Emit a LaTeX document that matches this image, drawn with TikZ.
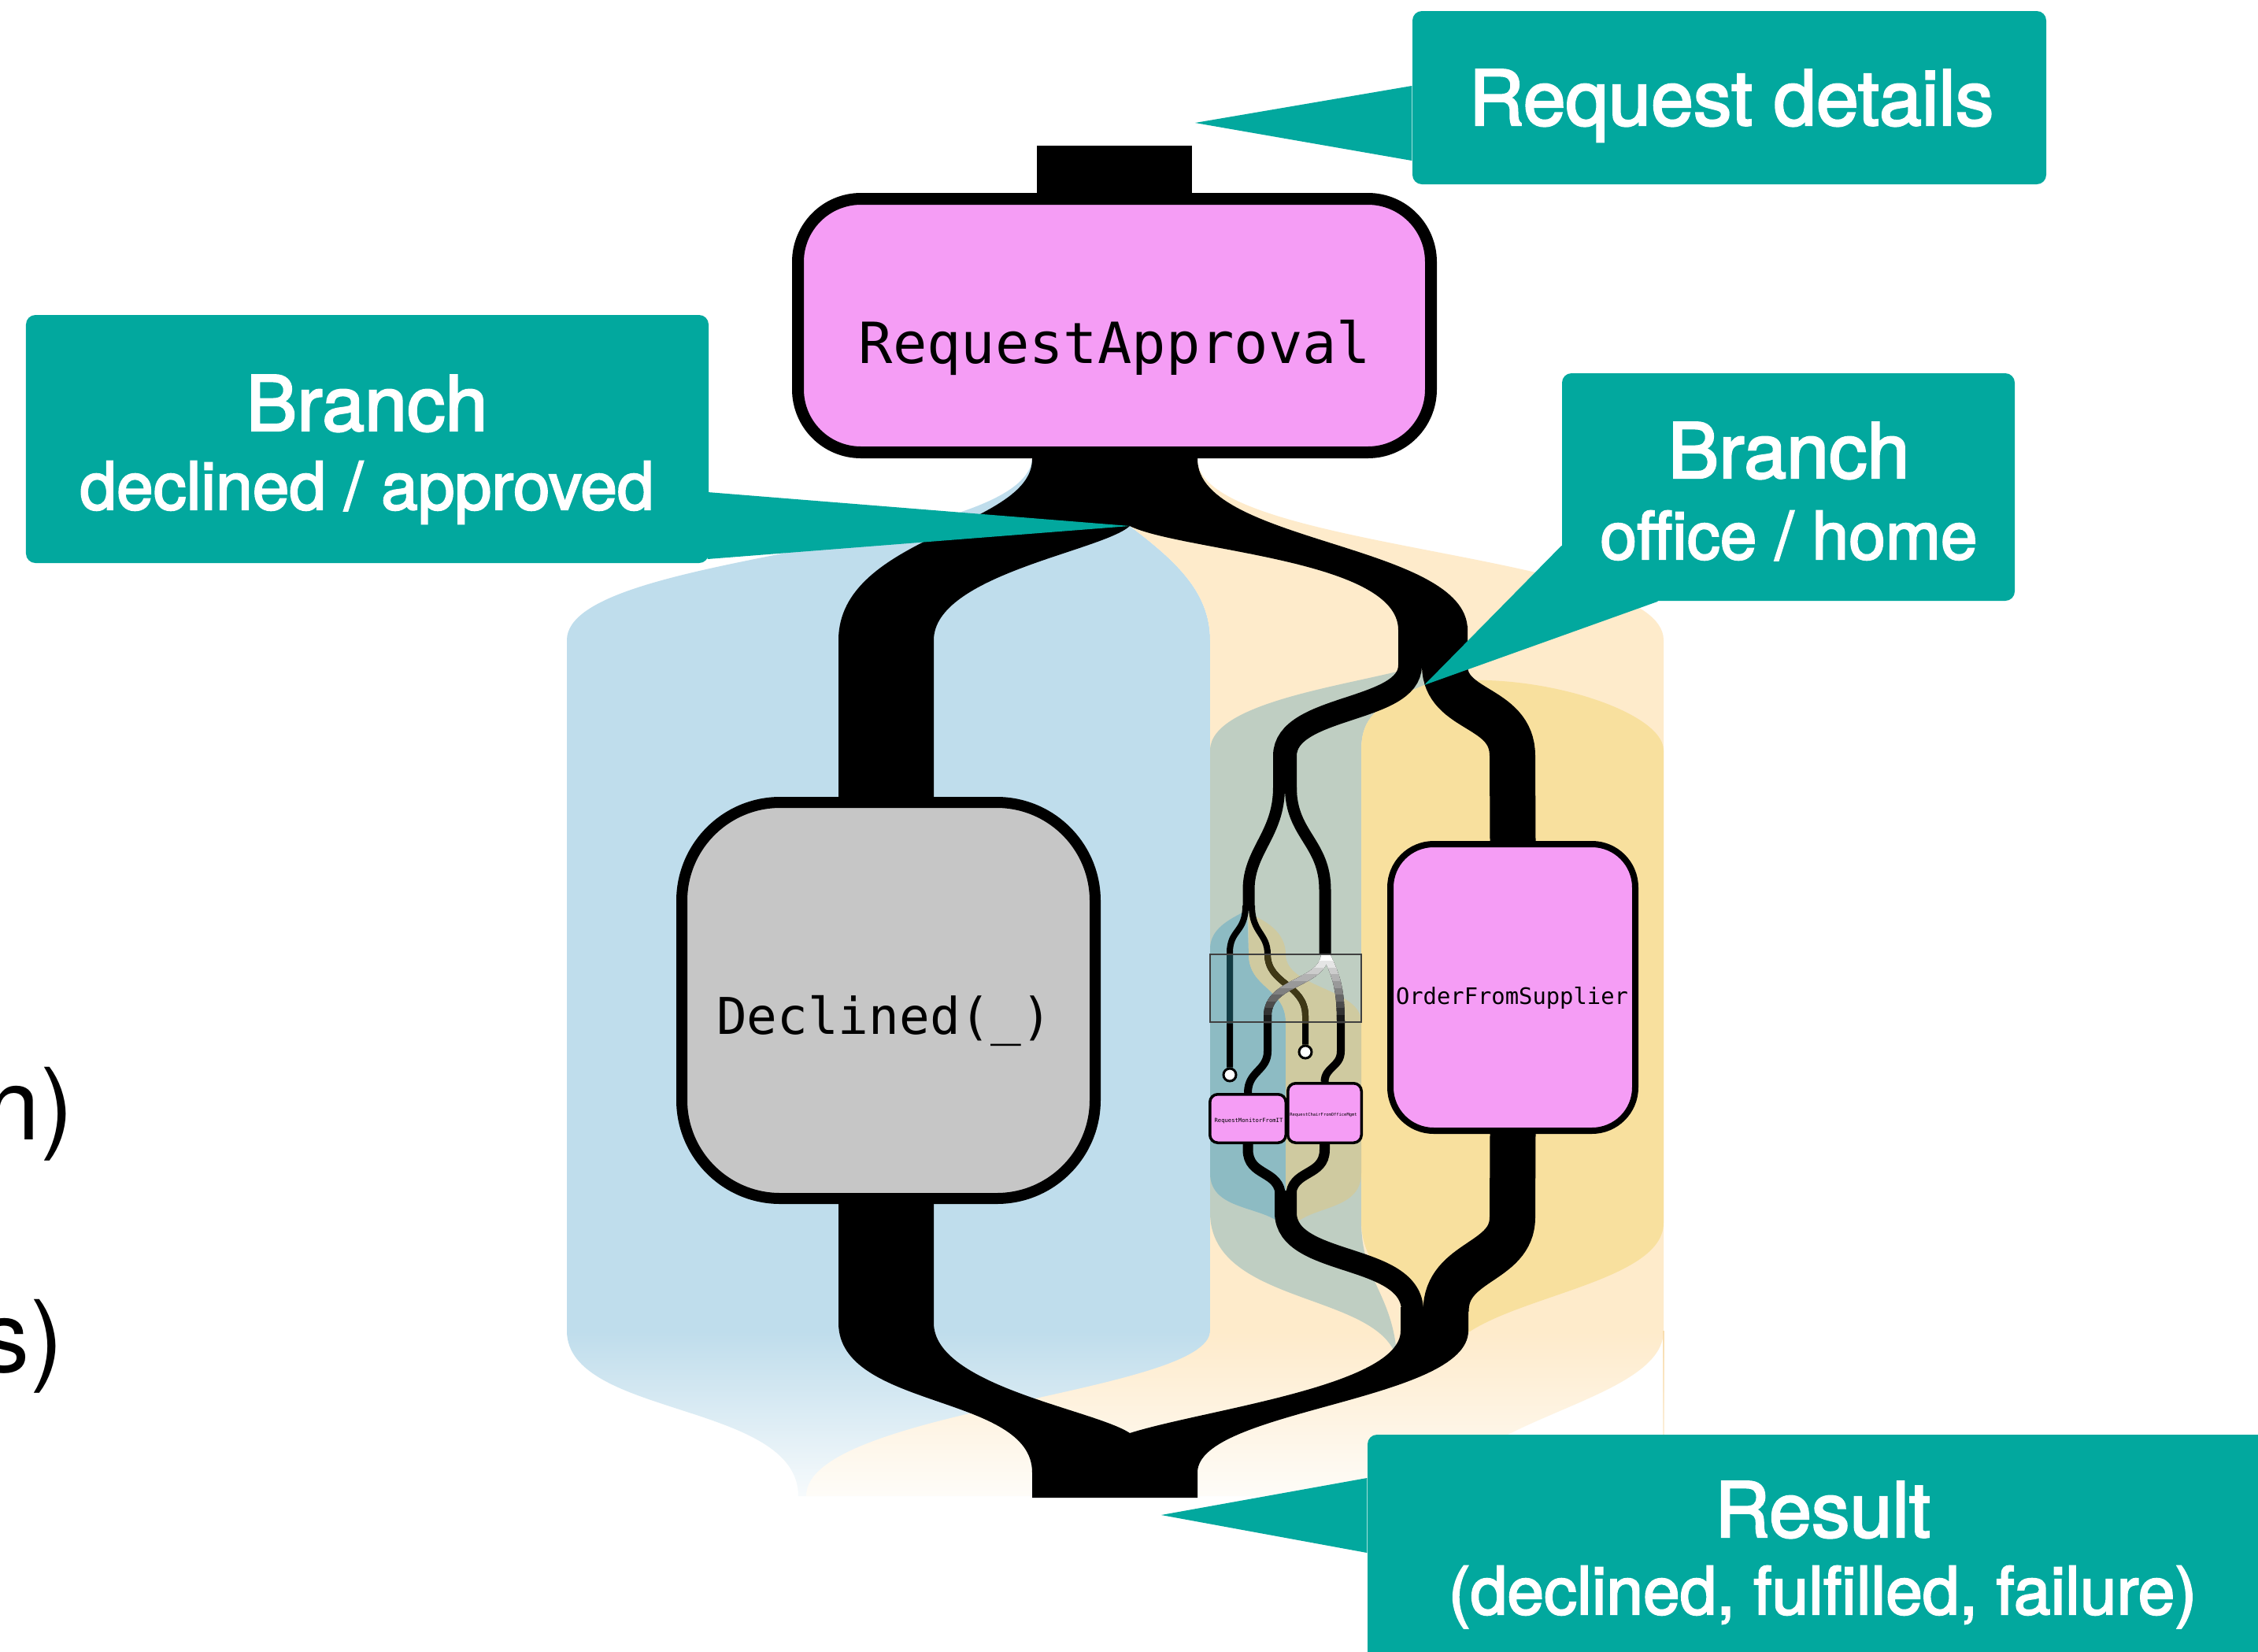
\documentclass[tikz,border=0pt]{standalone}
\usepackage{fontspec}
\setmainfont{TeX Gyre Heros}
\setmonofont{DejaVu Sans Mono}
\newfontfamily\notefont[FakeBold=2.5]{TeX Gyre Heros}
\usetikzlibrary{fadings, backgrounds}

\definecolor{noteteal}{HTML}{02A89E}
\definecolor{steppink}{HTML}{F59DF5}
\definecolor{stepgray}{HTML}{C6C6C6}
\definecolor{laneblue}{HTML}{BFDDEC}
\definecolor{lanepeach}{HTML}{FEEBCB}
\definecolor{laneedge}{HTML}{F9DDAE}
\definecolor{laneyellow}{HTML}{F8E09E}
\definecolor{lanesage}{HTML}{BFCEC2}
\definecolor{laneteal}{HTML}{8DBBC3}
\definecolor{lanekhaki}{HTML}{CFCAA0}
\definecolor{leafteal}{HTML}{123A42}
\definecolor{leafkhaki}{HTML}{3F3816}

\tikzfading[name=fadedown, top color=transparent!100, bottom color=transparent!0]

\newcommand\notebig{\notefont\fontsize{27.6}{33}\selectfont}
\newcommand\notesmall{\notefont\fontsize{23.9}{29}\selectfont}

\tikzset{
  note/.style={fill=noteteal, rounded corners=0.12cm, inner sep=0pt},
  notetext/.style={text=white, inner sep=0pt, anchor=base},
  stepbox/.style={draw=black, fill=steppink, inner sep=0pt},
  steplabel/.style={inner sep=0pt, anchor=base},
  endcap/.style={circle, draw=black, fill=white, line width=0.03cm,
                 minimum size=0.16cm, inner sep=0pt},
  flow/.style={draw=black, line cap=butt},
  leaf/.style={flow, line width=0.08cm},
}

\begin{document}
\begin{tikzpicture}[x=1cm, y=-1cm]
  \useasboundingbox (0,0) rectangle (28.68,20.98);

  % process steps
  \node[stepbox, line width=0.15cm, rounded corners=0.8cm,
        minimum width=8.04cm, minimum height=3.22cm] (approval) at (14.155,4.135) {};
  \node[stepbox, fill=stepgray, line width=0.14cm, rounded corners=1.25cm,
        minimum width=5.25cm, minimum height=5.03cm] (declined) at (11.285,12.705) {};
  \node[stepbox, line width=0.08cm, rounded corners=0.55cm,
        minimum width=3.11cm, minimum height=3.64cm] (supplier) at (19.215,12.54) {};
  \node[stepbox, line width=0.035cm, rounded corners=0.1cm,
        minimum width=0.965cm, minimum height=0.615cm] (monitor) at (15.85,14.205) {};
  \node[stepbox, line width=0.035cm, rounded corners=0.1cm,
        minimum width=0.935cm, minimum height=0.755cm] (chair) at (16.825,14.135) {};

  \node[steplabel, font=\ttfamily\fontsize{20.5}{24}\selectfont] (approvalText) at (14.16,4.61) {RequestApproval};
  \node[steplabel, font=\ttfamily\fontsize{18.3}{22}\selectfont] (declinedText) at (11.23,13.13) {Declined(\_)};
  \node[steplabel, font=\ttfamily\fontsize{8.2}{10}\selectfont] (supplierText) at (19.205,12.75) {OrderFromSupplier};
  \node[steplabel, font=\ttfamily\fontsize{2.05}{2.5}\selectfont] (monitorText) at (15.86,14.25) {RequestMonitorFromIT};
  \node[steplabel, font=\ttfamily\fontsize{1.55}{2}\selectfont] (chairText) at (16.81,14.17) {RequestChairFromOfficeMgmt};

  % mixing window and dead ends
  \node[draw=black!75, line width=0.02cm, minimum width=1.92cm, minimum height=0.86cm,
        inner sep=0pt] (mixer) at (16.33,12.55) {};
  \node[endcap] (endA) at (15.62,13.65) {};
  \node[endcap] (endB) at (16.58,13.36) {};

  \begin{scope}[on background layer]
    \fill[white] (0,0) rectangle (28.68,20.98);

    % lanes behind the flows
    \fill[laneblue] (13.11,5.83) .. controls (13.00,7.00) and (7.20,7.00) .. (7.20,8.13)
      -- (7.20,16.90) .. controls (7.20,18.00) and (10.14,17.80) .. (10.14,19.00)
      -- (10.50,19.00) .. controls (10.70,18.00) and (15.37,17.80) .. (15.37,16.90)
      -- (15.37,8.13) .. controls (15.37,7.50) and (14.90,7.10) .. (14.35,6.68)
      -- (14.35,5.83) -- cycle;
    \fill[lanepeach] (14.35,5.83) -- (14.35,6.68) .. controls (14.90,7.10) and (15.37,7.50) .. (15.37,8.13)
      -- (15.37,16.90) .. controls (15.37,17.70) and (10.24,17.90) .. (10.24,19.00)
      -- (18.30,19.00) .. controls (18.60,18.00) and (21.13,17.80) .. (21.13,16.90)
      -- (21.13,8.13) .. controls (21.13,7.00) and (15.21,7.00) .. (15.21,5.83) -- cycle;
    \draw[laneedge, line width=0.025cm] (21.13,16.90) -- (21.13,19.00);
    \fill[lanesage] (18.05,8.45) .. controls (17.20,8.70) and (15.37,8.90) .. (15.37,9.53)
      -- (15.37,15.40) .. controls (15.37,16.60) and (17.60,16.40) .. (17.75,17.30)
      .. controls (17.70,16.40) and (17.29,16.30) .. (17.29,15.50)
      -- (17.29,9.53) .. controls (17.29,9.10) and (17.50,8.95) .. (18.09,8.70) -- cycle;
    \fill[laneyellow] (18.09,8.70) .. controls (17.50,8.95) and (17.29,9.10) .. (17.29,9.53)
      -- (17.29,15.50) .. controls (17.29,16.40) and (18.30,16.50) .. (18.35,17.30)
      .. controls (18.50,16.50) and (21.13,16.40) .. (21.13,15.53)
      -- (21.13,9.53) .. controls (21.13,9.00) and (19.30,8.45) .. (18.09,8.70) -- cycle;
    \fill[laneteal] (15.37,12.05) .. controls (15.37,11.80) and (15.60,11.68) .. (15.84,11.56)
      -- (15.86,12.12) .. controls (15.86,12.55) and (16.33,12.55) .. (16.33,12.98)
      -- (16.33,14.90) .. controls (16.33,15.20) and (16.33,15.40) .. (16.33,15.60)
      .. controls (16.10,15.30) and (15.37,15.40) .. (15.37,14.90) -- cycle;
    \fill[lanekhaki] (15.86,11.60) .. controls (16.10,11.70) and (16.33,11.85) .. (16.33,12.12)
      .. controls (16.33,12.55) and (17.29,12.55) .. (17.29,12.98)
      -- (17.29,14.90) .. controls (17.29,15.40) and (16.60,15.30) .. (16.40,15.60)
      .. controls (16.36,15.40) and (16.33,15.20) .. (16.33,14.90)
      -- (16.33,12.98) .. controls (16.33,12.55) and (15.86,12.55) .. (15.86,12.12) -- cycle;
    \fill[white, fill opacity=0.9, path fading=fadedown] (7.0,16.9) rectangle (21.3,19.05);

    % request goes in, splits into declined / approved
    \fill (13.17,1.85) rectangle (15.14,2.60);
    \fill (13.11,5.70) -- (13.11,5.83) .. controls (13.11,6.70) and (10.65,6.80) .. (10.65,8.13)
      -- (10.65,10.25) -- (11.86,10.25) -- (11.86,8.13) .. controls (11.86,7.30) and (14.00,7.00) .. (14.35,6.68)
      .. controls (15.00,7.00) and (17.76,7.10) .. (17.76,8.00)
      -- (18.64,8.00) .. controls (18.64,6.90) and (15.21,6.90) .. (15.21,5.83) -- (15.21,5.70) -- cycle;

    % office / home
    \draw[flow, line width=0.30cm] (17.91,7.95) -- (17.91,8.45)
      .. controls (17.91,9.05) and (16.32,8.95) .. (16.32,9.60) -- (16.32,10.08);
    \draw[flow, line width=0.58cm] (18.35,7.95) -- (18.35,8.45)
      .. controls (18.35,9.05) and (19.21,8.95) .. (19.21,9.60) -- (supplier.north);

    \draw[flow, line width=0.15cm] (16.245,10.0) .. controls (16.245,10.6) and (15.86,10.8) .. (15.86,11.3) -- (15.86,11.55);
    \draw[flow, line width=0.15cm] (16.395,10.0) .. controls (16.395,10.6) and (16.83,10.7) .. (16.83,11.3) -- (16.83,12.12);

    \draw[leaf] (15.82,11.50) .. controls (15.82,11.85) and (15.62,11.80) .. (15.62,12.10) -- (endA.north);
    \draw[leaf] (15.90,11.50) .. controls (15.90,11.85) and (16.10,11.85) .. (16.10,12.12)
      .. controls (16.10,12.50) and (16.58,12.50) .. (16.58,12.90) -- (endB.north);

    \draw[flow, line width=0.10cm] (16.83,12.10) .. controls (16.83,12.50) and (16.10,12.45) .. (16.10,12.90)
      -- (16.10,13.35) .. controls (16.10,13.60) and (15.85,13.60) .. (monitor.north);
    \draw[flow, line width=0.10cm] (16.83,12.10) .. controls (16.95,12.35) and (17.03,12.50) .. (17.03,12.98)
      -- (17.03,13.35) .. controls (17.03,13.55) and (16.825,13.55) .. (chair.north);

    % tint of the dead ends inside the window
    \begin{scope}
      \clip (mixer.south west) rectangle (mixer.north east);
      \draw[leaf, draw=leafteal] (15.62,12.10) -- (15.62,13.10);
      \draw[leaf, draw=leafkhaki] (16.10,12.12) .. controls (16.10,12.50) and (16.58,12.50) .. (16.58,12.90) -- (16.58,13.10);
    \end{scope}

    % white-to-black fade inside the window
    \foreach \k in {0,...,9}{
      \begin{scope}
        \clip (15.37,{12.12+0.086*\k}) rectangle (17.29,{12.13+0.086*(\k+1)});
        \draw[flow, line width=0.10cm, draw=black!\k0!white] (16.83,12.10)
          .. controls (16.83,12.50) and (16.10,12.45) .. (16.10,12.90) -- (16.10,13.05);
        \draw[flow, line width=0.10cm, draw=black!\k0!white] (16.83,12.10)
          .. controls (16.95,12.35) and (17.03,12.50) .. (17.03,12.98) -- (17.03,13.05);
      \end{scope}
    }

    % everything joins into the result
    \draw[flow, line width=0.13cm] (monitor.south) -- (15.85,14.60)
      .. controls (15.85,14.95) and (16.265,14.85) .. (16.265,15.20);
    \draw[flow, line width=0.13cm] (chair.south) -- (16.825,14.60)
      .. controls (16.825,14.95) and (16.395,14.85) .. (16.395,15.20);
    \draw[flow, line width=0.28cm] (16.33,15.12) -- (16.33,15.40)
      .. controls (16.33,16.10) and (17.94,15.90) .. (17.94,16.65);
    \draw[flow, line width=0.58cm] (supplier.south) -- (19.21,15.46)
      .. controls (19.21,16.05) and (18.365,16.00) .. (18.365,16.65);
    \fill (10.65,15.20) -- (10.65,16.80) .. controls (10.65,17.90) and (13.11,17.70) .. (13.11,18.70)
      -- (13.11,19.02) -- (15.21,19.02) -- (15.21,18.70) .. controls (15.21,17.90) and (18.65,17.80) .. (18.65,16.90)
      -- (18.65,16.60) -- (17.79,16.60) -- (17.79,16.90) .. controls (17.79,17.60) and (15.30,17.90) .. (14.35,18.20)
      .. controls (13.90,17.90) and (11.86,17.60) .. (11.86,16.80) -- (11.86,15.20) -- cycle;
  \end{scope}

  % callouts
  \node[note, minimum width=8.05cm, minimum height=2.20cm] (noteReq) at (21.965,1.24) {};
  \coordinate (tipReq) at (15.18,1.56);
  \fill[noteteal] ([yshift=0.15cm]noteReq.west) -- (tipReq) -- ([yshift=-0.80cm]noteReq.west) -- cycle;
  \node[notetext, font=\notebig] (reqText) at (21.99,1.59) {Request details};

  \node[note, minimum width=8.67cm, minimum height=3.15cm] (noteDecl) at (4.665,5.575) {};
  \coordinate (tipDecl) at (14.35,6.68);
  \fill[noteteal] ([shift={(-0.02cm,-0.675cm)}]noteDecl.east) -- (tipDecl)
    -- ([shift={(-0.02cm,-1.525cm)}]noteDecl.east) -- cycle;
  \node[notetext, font=\notebig] (declTitle) at (4.66,5.47) {Branch};
  \node[notetext, font=\notesmall] (declSub) at (4.66,6.47) {declined / approved};

  \node[note, minimum width=5.75cm, minimum height=2.89cm] (noteHome) at (22.715,6.185) {};
  \coordinate (tipHome) at (18.09,8.70);
  \fill[noteteal] ([yshift=-0.745cm]noteHome.west) -- (tipHome) -- ([xshift=-1.655cm]noteHome.south) -- cycle;
  \node[notetext, font=\notebig] (homeTitle) at (22.72,6.07) {Branch};
  \node[notetext, font=\notesmall] (homeSub) at (22.72,7.10) {office / home};

  \node[note, minimum width=12.13cm, minimum height=3.28cm] (noteResult) at (23.435,19.86) {};
  \coordinate (tipResult) at (14.75,19.24);
  \fill[noteteal] ([yshift=1.09cm]noteResult.west) -- (tipResult) -- ([yshift=0.14cm]noteResult.west) -- cycle;
  \node[notetext, font=\notebig] (resTitle) at (23.15,19.52) {Result};
  \node[notetext, font=\notesmall] (resSub) at (23.15,20.50) {(declined, fulfilled, failure)};

  % slide text running off the left edge
  \node[font=\fontsize{36}{43}\selectfont, anchor=base east, inner sep=0pt] (cutA) at (0.94,14.47) {n)};
  \node[font=\fontsize{36}{43}\selectfont, anchor=base east, inner sep=0pt] (cutB) at (0.81,17.42) {s)};
\end{tikzpicture}
\end{document}
